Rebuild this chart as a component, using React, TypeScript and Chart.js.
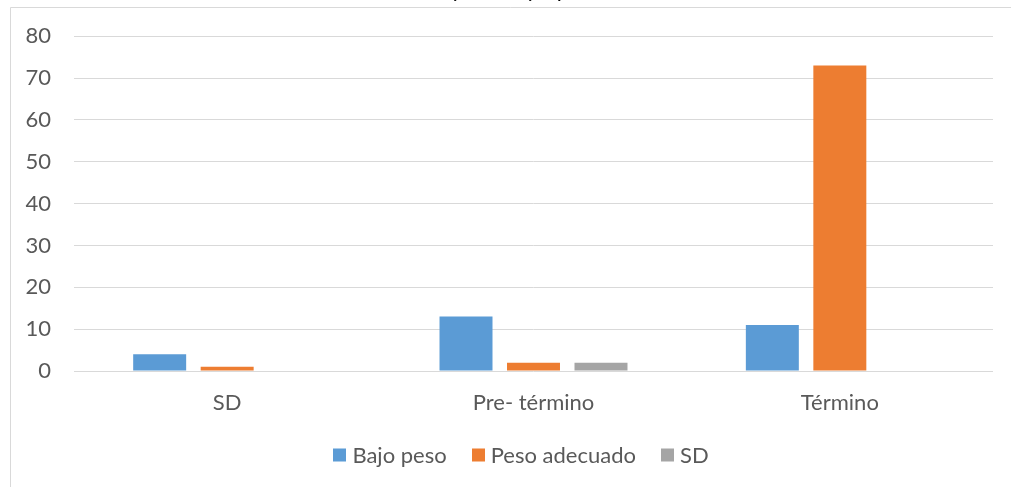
import React, { useEffect, useRef } from "react";
import { Chart, registerables } from "chart.js";

Chart.register(...registerables);

// Data
const categories = ["SD", "Pre- término", "Término"];
const seriesNames = ["Bajo peso", "Peso adecuado", "SD"];
const bajoPeso = [4, 13, 11];
const pesoAdecuado = [1, 2, 73];
const sinDato = [0, 2, 0];
const seriesColors = ["#5B9BD5", "#ED7D31", "#A5A5A5"];
const yMin = 0;
const yMax = 80;
const yStep = 10;
const titleText = "Peso al nacer y edad, y tipo de nacimiento";

const FONT = "Lato, 'Open Sans', sans-serif";
const TEXT_COLOR = "#595959";
const GRID_COLOR = "#D9D9D9";

// Outer frame and the title that sits above it
const framePlugin = {
  id: "frame",
  beforeDraw(chart: any) {
    const { ctx, width, height } = chart;
    ctx.save();
    ctx.fillStyle = "#ffffff";
    ctx.fillRect(0, 0, width, height);
    ctx.strokeStyle = GRID_COLOR;
    ctx.lineWidth = 1;
    ctx.beginPath();
    ctx.moveTo(10.5, height);
    ctx.lineTo(10.5, 7.5);
    ctx.lineTo(width, 7.5);
    ctx.stroke();
    ctx.fillStyle = "#000000";
    ctx.font = `22px ${FONT}`;
    ctx.textAlign = "center";
    ctx.textBaseline = "alphabetic";
    ctx.fillText(titleText, 521, -3);
    ctx.restore();
  },
};

// Legend row under the category labels
const legendPlugin = {
  id: "bottomLegend",
  afterDraw(chart: any) {
    const { ctx } = chart;
    const box = 13;
    const textGap = 6;
    const itemGap = 25;
    const cy = 455;
    ctx.save();
    ctx.font = `22px ${FONT}`;
    const items = chart.data.datasets.map((ds: any) => ({
      label: ds.label as string,
      color: ds.backgroundColor as string,
      w: ctx.measureText(ds.label).width,
    }));
    const total =
      items.reduce((s: number, it: any) => s + box + textGap + it.w, 0) +
      itemGap * (items.length - 1);
    let x = 521 - total / 2;
    ctx.textBaseline = "middle";
    ctx.textAlign = "left";
    for (const it of items) {
      ctx.fillStyle = it.color;
      ctx.fillRect(Math.round(x), cy - box / 2, box, box);
      ctx.fillStyle = TEXT_COLOR;
      ctx.fillText(it.label, x + box + textGap, cy + 1);
      x += box + textGap + it.w + itemGap;
    }
    ctx.restore();
  },
};

export default function App() {
  const canvasRef = useRef<HTMLCanvasElement | null>(null);

  useEffect(() => {
    document.body.style.margin = "0";
    const canvas = canvasRef.current;
    if (!canvas) return;
    const values = [bajoPeso, pesoAdecuado, sinDato];
    const chart = new Chart(canvas, {
      type: "bar",
      data: {
        labels: categories,
        datasets: seriesNames.map((name, i) => ({
          label: name,
          data: values[i],
          backgroundColor: seriesColors[i],
          borderWidth: 0,
          categoryPercentage: 0.661,
          barPercentage: 0.785,
        })),
      },
      options: {
        responsive: false,
        animation: false,
        devicePixelRatio: 1,
        layout: { padding: { left: 10, top: 36, right: 18, bottom: 0 } },
        plugins: {
          legend: { display: false },
          title: { display: false },
          tooltip: { enabled: false },
        },
        scales: {
          x: {
            grid: { display: false, drawTicks: false },
            border: { display: false },
            ticks: {
              color: TEXT_COLOR,
              font: { family: FONT, size: 22 },
              padding: 19,
              maxRotation: 0,
            },
            afterFit: (scale: any) => {
              scale.height = 116;
            },
          },
          y: {
            min: yMin,
            max: yMax,
            grid: { color: GRID_COLOR, lineWidth: 1, drawTicks: false },
            border: { display: false },
            ticks: {
              stepSize: yStep,
              color: TEXT_COLOR,
              font: { family: FONT, size: 22 },
              padding: 23,
            },
            afterFit: (scale: any) => {
              scale.width = 64;
            },
          },
        },
      },
      plugins: [framePlugin, legendPlugin],
    });
    return () => chart.destroy();
  }, []);

  return (
    <div style={{ width: 1011, height: 487, position: "relative" }}>
      <canvas ref={canvasRef} width={1011} height={487} style={{ display: "block" }} />
    </div>
  );
}
